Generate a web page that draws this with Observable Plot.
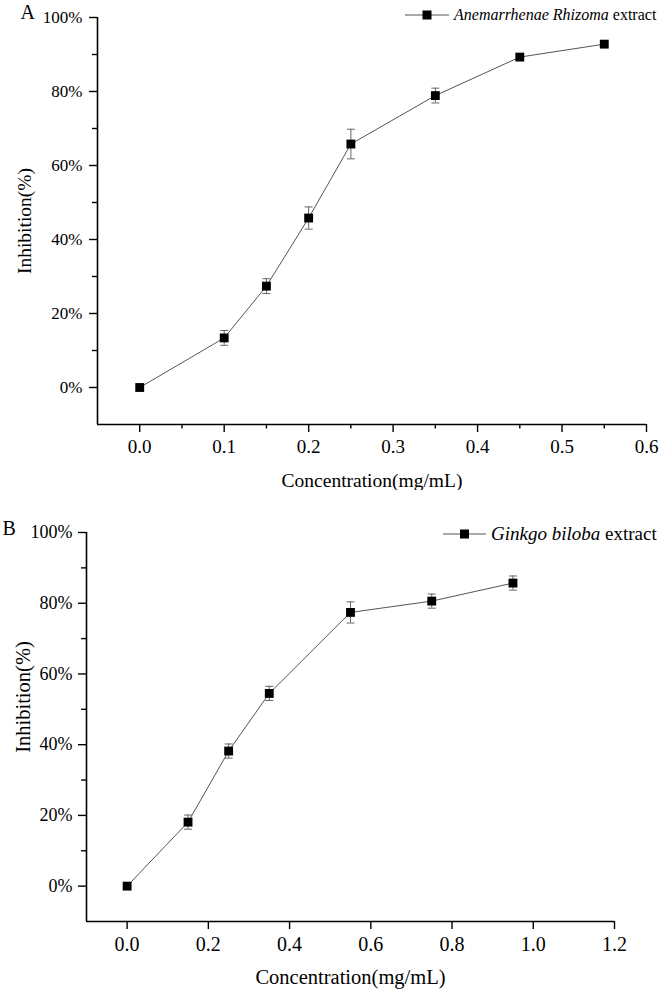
<!DOCTYPE html>
<html><head><meta charset="utf-8">
<script src="https://cdn.jsdelivr.net/npm/d3@7"></script>
<script src="https://cdn.jsdelivr.net/npm/@observablehq/plot@0.6"></script>
<style>
body{margin:0;background:#fff;font-family:"Liberation Serif","Times New Roman",serif;}
.panel{position:relative;width:666px;}
.legend{position:absolute;display:flex;align-items:center;white-space:nowrap;color:#000;}
.legend svg{display:block;}
</style></head><body>
<div id="A" class="panel"></div>
<div id="B" class="panel"></div>
<script>
// Panel A: Anemarrhenae Rhizoma extract
const concA  = [0, 0.1, 0.15, 0.2, 0.25, 0.35, 0.45, 0.55];
const inhibA = [0, 13.4, 27.4, 45.8, 65.8, 78.9, 89.3, 92.8];
const errA   = [0.5, 2, 2, 3, 4, 2, 0.6, 0.6];
// Panel B: Ginkgo biloba extract
const concB  = [0, 0.15, 0.25, 0.35, 0.55, 0.75, 0.95];
const inhibB = [0, 18.1, 38.2, 54.5, 77.4, 80.6, 85.7];
const errB   = [0.5, 2, 2, 2, 3, 2, 2];
// Axes
const xDomainA = [-0.05, 0.6];
const xDomainB = [-0.1, 1.2];
const yDomain  = [-10, 100];
const xTicksA  = [0, 0.1, 0.2, 0.3, 0.4, 0.5, 0.6];
const xMinorA  = [0.05, 0.15, 0.25, 0.35, 0.45, 0.55];
const xTicksB  = [0, 0.2, 0.4, 0.6, 0.8, 1.0, 1.2];
const yTicks   = [0, 20, 40, 60, 80, 100];
const yMinor   = [10, 30, 50, 70, 90];
const xTitle = "Concentration(mg/mL)";
const yTitle = "Inhibition(%)";

function capSymbol(w) {
  return {draw(ctx) { ctx.moveTo(-w / 2, 0); ctx.lineTo(w / 2, 0); }};
}

function panel(cfg) {
  const data = cfg.x.map((x, i) => ({x, y: cfg.y[i], e: cfg.e[i]}));
  const f = cfg.f;
  const marks = [
    Plot.ruleX([cfg.xDomain[0]], {y1: yDomain[0], y2: yDomain[1], stroke: "#000", strokeWidth: 1.6}),
    Plot.ruleY([yDomain[0]], {x1: cfg.xDomain[0], x2: cfg.xDomain[1], stroke: "#000", strokeWidth: 1.6}),
    Plot.axisX({ticks: cfg.xTicks, tickSize: 8, tickPadding: 7, tickFormat: d => d.toFixed(1), fontSize: f.xt, label: null, strokeWidth: 1.4}),
    Plot.axisY({ticks: yTicks, tickSize: 8, tickPadding: f.yp, tickFormat: d => d + "%", fontSize: f.yt, label: null, strokeWidth: 1.4}),
    Plot.axisY({ticks: yMinor, tickSize: 5, tickFormat: () => "", label: null, strokeWidth: 1.4}),
  ];
  if (cfg.xMinor) marks.push(Plot.axisX({ticks: cfg.xMinor, tickSize: 4.5, tickFormat: () => "", label: null, strokeWidth: 1.4}));
  marks.push(
    Plot.ruleX(data, {x: "x", y1: d => d.y - d.e, y2: d => d.y + d.e, stroke: "#666", strokeWidth: 1}),
    Plot.dot(data, {x: "x", y: d => d.y + d.e, symbol: capSymbol(8), stroke: "#666", fill: "none", strokeWidth: 1}),
    Plot.dot(data, {x: "x", y: d => d.y - d.e, symbol: capSymbol(8), stroke: "#666", fill: "none", strokeWidth: 1}),
    Plot.line(data, {x: "x", y: "y", stroke: "#555", strokeWidth: 1}),
    Plot.dot(data, {x: "x", y: "y", symbol: "square", r: 5, fill: "#000", stroke: "none"}),
    Plot.text([xTitle], {frameAnchor: "bottom", textAnchor: "middle", lineAnchor: "middle", dy: 56, fontSize: f.title, text: d => d}),
    Plot.text([yTitle], {frameAnchor: "left", textAnchor: "middle", lineAnchor: "middle", rotate: -90, dx: cfg.ytDx, dy: cfg.ytDy, fontSize: f.title, text: d => d}),
    Plot.text([cfg.letter], {frameAnchor: "top-left", textAnchor: "start", lineAnchor: "middle", dx: cfg.lDx, dy: cfg.lDy, fontSize: 20, text: d => d})
  );
  return Plot.plot({
    width: 666, height: cfg.height,
    marginTop: cfg.mt, marginBottom: cfg.mb, marginLeft: cfg.ml, marginRight: cfg.mr,
    x: {domain: cfg.xDomain},
    y: {domain: yDomain},
    style: {fontFamily: "'Liberation Serif','Times New Roman',serif", background: "#fff", color: "#000", overflow: "visible"},
    marks
  });
}

function legend(el, cfg) {
  const d = document.createElement("div");
  d.className = "legend";
  d.style.left = cfg.left + "px";
  d.style.top = (cfg.cy - 12) + "px";
  d.style.height = "24px";
  d.style.fontSize = cfg.fs + "px";
  const w = cfg.sw;
  d.innerHTML = `<svg width="${w}" height="12" style="margin-right:${cfg.gap}px"><line x1="0" x2="${w}" y1="6" y2="6" stroke="#555" stroke-width="1"/><rect x="${w/2-4.5}" y="1.5" width="9" height="9" fill="#000"/></svg><span><i>${cfg.name}</i> extract</span>`;
  el.appendChild(d);
}

const elA = document.getElementById("A");
elA.appendChild(panel({
  x: concA, y: inhibA, e: errA, xDomain: xDomainA, xTicks: xTicksA, xMinor: xMinorA,
  height: 490, mt: 17, mb: 66, ml: 97, mr: 20,
  f: {xt: 19, yt: 17, yp: 7, title: 19.5},
  ytDx: -73, ytDy: 0, letter: "A", lDx: -77, lDy: -5
}));
legend(elA, {left: 405, cy: 15, fs: 16, sw: 44, gap: 5, name: "Anemarrhenae Rhizoma"});

const elB = document.getElementById("B");
elB.appendChild(panel({
  x: concB, y: inhibB, e: errB, xDomain: xDomainB, xTicks: xTicksB, xMinor: null,
  height: 502, mt: 42, mb: 71, ml: 86, mr: 52,
  f: {xt: 20, yt: 18, yp: 6, title: 20.5},
  ytDx: -63, ytDy: -30, letter: "B", lDx: -84, lDy: -4
}));
legend(elB, {left: 443, cy: 44, fs: 19, sw: 43, gap: 5, name: "Ginkgo biloba"});
</script>
</body></html>
